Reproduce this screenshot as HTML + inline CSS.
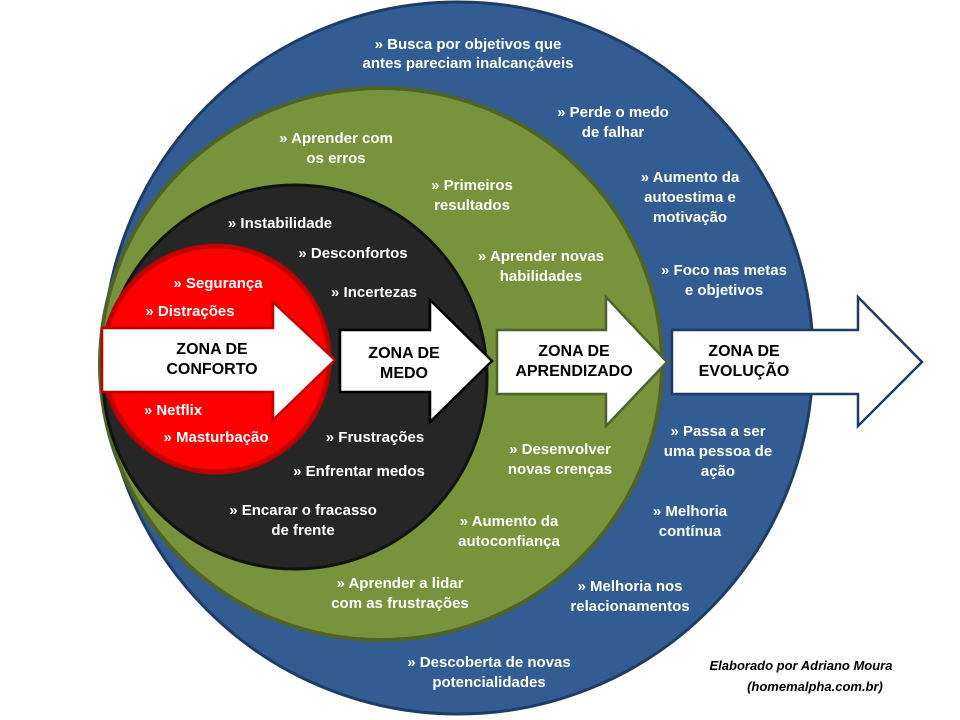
<!DOCTYPE html>
<html><head><meta charset="utf-8"><style>html,body{margin:0;padding:0;background:#fff}svg{display:block}</style></head>
<body>
<svg width="960" height="720" viewBox="0 0 960 720" xmlns="http://www.w3.org/2000/svg" font-family="Liberation Sans, sans-serif" font-weight="bold">
<ellipse cx="458" cy="358" rx="355" ry="356" fill="#335d92" stroke="#1f3c63" stroke-width="3"/>
<ellipse cx="381" cy="364" rx="281" ry="276" fill="#77933c" stroke="#4f6228" stroke-width="4"/>
<circle cx="295" cy="377" r="192" fill="#262626" stroke="#111" stroke-width="3"/>
<circle cx="216" cy="359" r="113" fill="#ff0000" stroke="#c00000" stroke-width="5"/>

<polygon points="102,328 273,328 273,302 335,360 273,420 273,392 102,392" fill="#fff" stroke="#c00000" stroke-width="2.5"/>
<polygon points="340,330 430,330 430,300 492,361 430,422 430,392 340,392" fill="#fff" stroke="#000" stroke-width="2.5"/>
<polygon points="497,330 606,330 606,297 667,362 606,426 606,394 497,394" fill="#fff" stroke="#4f6228" stroke-width="2.5"/>
<polygon points="672,330 858,330 858,297 922,362 858,426 858,394 672,394" fill="#fff" stroke="#1f3c63" stroke-width="2.5"/>

<g fill="#000" font-size="16" text-anchor="middle">
<text x="212" y="354">ZONA DE</text><text x="212" y="374">CONFORTO</text>
<text x="404" y="358">ZONA DE</text><text x="404" y="378">MEDO</text>
<text x="574" y="356">ZONA DE</text><text x="574" y="376">APRENDIZADO</text>
<text x="744" y="356">ZONA DE</text><text x="744" y="376">EVOLUÇÃO</text>
</g>

<g fill="#fff" font-size="15" text-anchor="middle">
<text x="468" y="49">» Busca por objetivos que</text><text x="468" y="68">antes pareciam inalcançáveis</text>
<text x="613" y="117">» Perde o medo</text><text x="613" y="137">de falhar</text>
<text x="690" y="182">» Aumento da</text><text x="690" y="202">autoestima e</text><text x="690" y="222">motivação</text>
<text x="724" y="275">» Foco nas metas</text><text x="724" y="295">e objetivos</text>
<text x="718" y="436">» Passa a ser</text><text x="718" y="456">uma pessoa de</text><text x="718" y="476">ação</text>
<text x="690" y="516">» Melhoria</text><text x="690" y="536">contínua</text>
<text x="630" y="591">» Melhoria nos</text><text x="630" y="611">relacionamentos</text>
<text x="489" y="667">» Descoberta de novas</text><text x="489" y="687">potencialidades</text>

<text x="336" y="143">» Aprender com</text><text x="336" y="163">os erros</text>
<text x="472" y="190">» Primeiros</text><text x="472" y="210">resultados</text>
<text x="541" y="261">» Aprender novas</text><text x="541" y="281">habilidades</text>
<text x="560" y="454">» Desenvolver</text><text x="560" y="474">novas crenças</text>
<text x="509" y="526">» Aumento da</text><text x="509" y="546">autoconfiança</text>
<text x="400" y="588">» Aprender a lidar</text><text x="400" y="608">com as frustrações</text>

<text x="280" y="228">» Instabilidade</text>
<text x="353" y="258">» Desconfortos</text>
<text x="374" y="297">» Incertezas</text>
<text x="375" y="442">» Frustrações</text>
<text x="359" y="476">» Enfrentar medos</text>
<text x="303" y="515">» Encarar o fracasso</text><text x="303" y="535">de frente</text>

<text x="218" y="288">» Segurança</text>
<text x="190" y="316">» Distrações</text>
<text x="173" y="415">» Netflix</text>
<text x="216" y="442">» Masturbação</text>
</g>

<g fill="#000" font-size="13" font-style="italic" text-anchor="middle">
<text x="801" y="670">Elaborado  por Adriano Moura</text>
<text x="815" y="691">(homemalpha.com.br)</text>
</g>
</svg>
</body></html>
